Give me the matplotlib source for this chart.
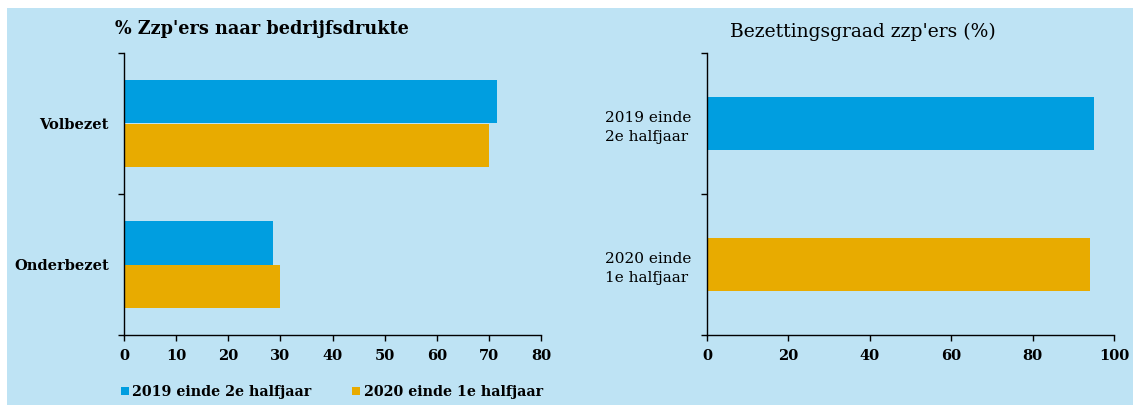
import matplotlib
matplotlib.use("Agg")
import matplotlib.pyplot as plt
from matplotlib.patches import Rectangle
import numpy as np

# Data
left_categories = ["Volbezet", "Onderbezet"]
series_names = ["2019 einde 2e halfjaar", "2020 einde 1e halfjaar"]
left_2019 = [71.5, 28.5]
left_2020 = [70.0, 30.0]
left_xticks = [0, 10, 20, 30, 40, 50, 60, 70, 80]

right_categories = ["2019 einde\n2e halfjaar", "2020 einde\n1e halfjaar"]
right_values = [95.0, 94.2]
right_xticks = [0, 20, 40, 60, 80, 100]

left_title = "% Zzp'ers naar bedrijfsdrukte"
right_title = "Bezettingsgraad zzp'ers (%)"

BG = "#BEE3F4"
BLUE = "#009EE0"
ORANGE = "#E8AB00"
FONT = "DejaVu Serif"

W, H = 1133, 405
fig = plt.figure(figsize=(W / 100, H / 100), dpi=100)
fig.patch.set_facecolor("white")
bg = Rectangle((7 / W, 0), 1 - 7 / W, 1 - 8 / H, transform=fig.transFigure,
               facecolor=BG, edgecolor="none", zorder=-10)
fig.add_artist(bg)

def style_axes(ax, xticks, xmax):
    ax.set_facecolor("none")
    ax.set_zorder(1)
    for s in ["top", "right"]:
        ax.spines[s].set_visible(False)
    for s in ["left", "bottom"]:
        ax.spines[s].set_color("black")
        ax.spines[s].set_linewidth(1.0)
    ax.set_xlim(0, xmax)
    ax.set_xticks(xticks)
    ax.set_xticklabels([str(t) for t in xticks], fontfamily=FONT, fontweight="bold", fontsize=10.5)
    ax.tick_params(axis="x", direction="out", length=4, width=1, pad=6, colors="black")
    ax.set_ylim(2, 0)
    ax.set_yticks([0, 1, 2])
    ax.set_yticklabels([])
    ax.tick_params(axis="y", which="major", direction="out", length=4, width=1)
    ax.set_yticks([0.5, 1.5], minor=True)
    ax.tick_params(axis="y", which="minor", length=0, pad=11)

y = 0.5 + np.arange(len(left_categories))
ax1 = fig.add_axes([124 / W, 1 - 335 / H, (541 - 124) / W, (335 - 53) / H])
h = 0.31
ax1.barh(y - h / 2, left_2019, height=h, color=BLUE, label=series_names[0])
ax1.barh(y + h / 2, left_2020, height=h, color=ORANGE, label=series_names[1])
style_axes(ax1, left_xticks, 80)
ax1.set_yticklabels(left_categories, minor=True, fontfamily=FONT, fontweight="bold", fontsize=10.5)
fig.text(115 / W, 1 - 29 / H, left_title, fontfamily=FONT, fontweight="bold", fontsize=12.7,
         ha="left", va="center")

ax1.legend(loc="center left", bbox_to_anchor=(121 / W, 1 - 392 / H), bbox_transform=fig.transFigure,
           ncol=2, frameon=False, handlelength=0.55, handleheight=0.55, handletextpad=0.25,
           columnspacing=2.85, borderpad=0, borderaxespad=0,
           prop={"family": FONT, "weight": "bold", "size": 10.3})

ax2 = fig.add_axes([707 / W, 1 - 335 / H, (1114 - 707) / W, (335 - 53) / H])
y2 = 0.5 + np.arange(len(right_categories))
ax2.barh(y2, right_values, height=0.38, color=[BLUE, ORANGE])
style_axes(ax2, right_xticks, 100)
ax2.set_yticklabels(right_categories, minor=True, fontfamily=FONT, fontsize=11,
                    linespacing=1.45, multialignment="left")
fig.text(863 / W, 1 - 32 / H, right_title, fontfamily=FONT, fontsize=13.5,
         ha="center", va="center")

fig.savefig("out.png", dpi=100, facecolor=fig.get_facecolor())
